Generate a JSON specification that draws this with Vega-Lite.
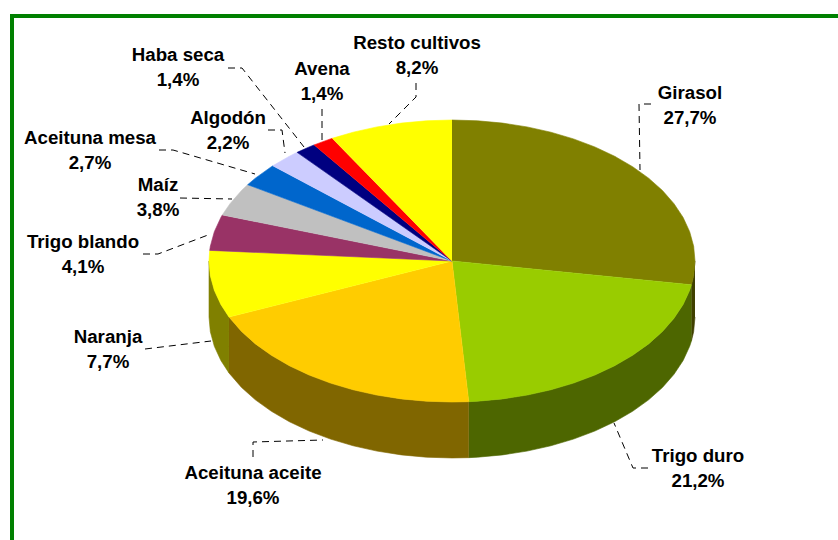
{"$schema":"https://vega.github.io/schema/vega-lite/v6.json","width":838,"height":540,"padding":0,"autosize":"none","background":"white","config":{"view":{"stroke":null}},
"datasets":{
"frame":[{"s":"f","i":0,"x":12,"y":540},{"s":"f","i":1,"x":12,"y":16},{"s":"f","i":2,"x":838,"y":16}],
"labels":[
{"crop":"Girasol","pct":27.7,"t":"Girasol\n27,7%","x":690,"y":99},
{"crop":"Trigo duro","pct":21.2,"t":"Trigo duro\n21,2%","x":698,"y":462},
{"crop":"Aceituna aceite","pct":19.6,"t":"Aceituna aceite\n19,6%","x":253,"y":479},
{"crop":"Naranja","pct":7.7,"t":"Naranja\n7,7%","x":108,"y":343},
{"crop":"Trigo blando","pct":4.1,"t":"Trigo blando\n4,1%","x":83,"y":248},
{"crop":"Maíz","pct":3.8,"t":"Maíz\n3,8%","x":158,"y":191},
{"crop":"Aceituna mesa","pct":2.7,"t":"Aceituna mesa\n2,7%","x":90,"y":144},
{"crop":"Algodón","pct":2.2,"t":"Algodón\n2,2%","x":228,"y":124},
{"crop":"Haba seca","pct":1.4,"t":"Haba seca\n1,4%","x":178,"y":61},
{"crop":"Avena","pct":1.4,"t":"Avena\n1,4%","x":322,"y":75},
{"crop":"Resto cultivos","pct":8.2,"t":"Resto cultivos\n8,2%","x":417,"y":49}],
"leaders":[
{"s":"a","i":0,"x":651,"y":104},{"s":"a","i":1,"x":639,"y":104},{"s":"a","i":2,"x":640,"y":170},
{"s":"b","i":0,"x":648,"y":468},{"s":"b","i":1,"x":633,"y":468},{"s":"b","i":2,"x":614,"y":423},
{"s":"c","i":0,"x":253,"y":457},{"s":"c","i":1,"x":253,"y":442},{"s":"c","i":2,"x":323,"y":440},
{"s":"d","i":0,"x":145,"y":349},{"s":"d","i":1,"x":211,"y":341},
{"s":"e","i":0,"x":143,"y":254},{"s":"e","i":1,"x":158,"y":254},{"s":"e","i":2,"x":208,"y":235},
{"s":"f","i":0,"x":180,"y":198},{"s":"f","i":1,"x":232,"y":199},
{"s":"g","i":0,"x":159,"y":150},{"s":"g","i":1,"x":173,"y":150},{"s":"g","i":2,"x":255,"y":174},
{"s":"h","i":0,"x":268,"y":130},{"s":"h","i":1,"x":282,"y":130},{"s":"h","i":2,"x":285,"y":153},
{"s":"j","i":0,"x":228,"y":68},{"s":"j","i":1,"x":242,"y":68},{"s":"j","i":2,"x":304,"y":147},
{"s":"k","i":0,"x":322,"y":109},{"s":"k","i":1,"x":322,"y":141},
{"s":"l","i":0,"x":416,"y":83},{"s":"l","i":1,"x":416,"y":97},{"s":"l","i":2,"x":389,"y":124}],
"pie":[
{"s":"Girasol lateral","i":0,"x":1,"y":0},{"s":"Girasol lateral","i":1,"x":0.9945,"y":0.1045},{"s":"Girasol lateral","i":2,"x":0.9856,"y":0.1688},{"s":"Girasol lateral","i":3,"x":0.9856,"y":0.5658},{"s":"Girasol lateral","i":4,"x":0.9945,"y":0.5015},{"s":"Girasol lateral","i":5,"x":1,"y":0.397},
{"s":"Trigo duro lateral","i":0,"x":0.9856,"y":0.1688},{"s":"Trigo duro lateral","i":1,"x":0.9781,"y":0.2079},{"s":"Trigo duro lateral","i":2,"x":0.9511,"y":0.309},{"s":"Trigo duro lateral","i":3,"x":0.9135,"y":0.4067},{"s":"Trigo duro lateral","i":4,"x":0.866,"y":0.5},{"s":"Trigo duro lateral","i":5,"x":0.809,"y":0.5878},{"s":"Trigo duro lateral","i":6,"x":0.7431,"y":0.6691},{"s":"Trigo duro lateral","i":7,"x":0.6691,"y":0.7431},{"s":"Trigo duro lateral","i":8,"x":0.5878,"y":0.809},{"s":"Trigo duro lateral","i":9,"x":0.5,"y":0.866},{"s":"Trigo duro lateral","i":10,"x":0.4067,"y":0.9135},{"s":"Trigo duro lateral","i":11,"x":0.309,"y":0.9511},{"s":"Trigo duro lateral","i":12,"x":0.2079,"y":0.9781},{"s":"Trigo duro lateral","i":13,"x":0.1045,"y":0.9945},{"s":"Trigo duro lateral","i":14,"x":0.0691,"y":0.9976},
{"s":"Trigo duro lateral","i":15,"x":0.0691,"y":1.3946},{"s":"Trigo duro lateral","i":16,"x":0.1045,"y":1.3915},{"s":"Trigo duro lateral","i":17,"x":0.2079,"y":1.3751},{"s":"Trigo duro lateral","i":18,"x":0.309,"y":1.3481},{"s":"Trigo duro lateral","i":19,"x":0.4067,"y":1.3105},{"s":"Trigo duro lateral","i":20,"x":0.5,"y":1.263},{"s":"Trigo duro lateral","i":21,"x":0.5878,"y":1.206},{"s":"Trigo duro lateral","i":22,"x":0.6691,"y":1.1401},{"s":"Trigo duro lateral","i":23,"x":0.7431,"y":1.0661},{"s":"Trigo duro lateral","i":24,"x":0.809,"y":0.9848},{"s":"Trigo duro lateral","i":25,"x":0.866,"y":0.897},{"s":"Trigo duro lateral","i":26,"x":0.9135,"y":0.8037},{"s":"Trigo duro lateral","i":27,"x":0.9511,"y":0.706},{"s":"Trigo duro lateral","i":28,"x":0.9781,"y":0.6049},{"s":"Trigo duro lateral","i":29,"x":0.9856,"y":0.5658},
{"s":"Aceituna aceite lateral","i":0,"x":0.0691,"y":0.9976},{"s":"Aceituna aceite lateral","i":1,"x":0,"y":1},{"s":"Aceituna aceite lateral","i":2,"x":-0.1045,"y":0.9945},{"s":"Aceituna aceite lateral","i":3,"x":-0.2079,"y":0.9781},{"s":"Aceituna aceite lateral","i":4,"x":-0.309,"y":0.9511},{"s":"Aceituna aceite lateral","i":5,"x":-0.4067,"y":0.9135},{"s":"Aceituna aceite lateral","i":6,"x":-0.5,"y":0.866},{"s":"Aceituna aceite lateral","i":7,"x":-0.5878,"y":0.809},{"s":"Aceituna aceite lateral","i":8,"x":-0.6691,"y":0.7431},{"s":"Aceituna aceite lateral","i":9,"x":-0.7431,"y":0.6691},{"s":"Aceituna aceite lateral","i":10,"x":-0.809,"y":0.5878},{"s":"Aceituna aceite lateral","i":11,"x":-0.866,"y":0.5},{"s":"Aceituna aceite lateral","i":12,"x":-0.9178,"y":0.3971},
{"s":"Aceituna aceite lateral","i":13,"x":-0.9178,"y":0.7941},{"s":"Aceituna aceite lateral","i":14,"x":-0.866,"y":0.897},{"s":"Aceituna aceite lateral","i":15,"x":-0.809,"y":0.9848},{"s":"Aceituna aceite lateral","i":16,"x":-0.7431,"y":1.0661},{"s":"Aceituna aceite lateral","i":17,"x":-0.6691,"y":1.1401},{"s":"Aceituna aceite lateral","i":18,"x":-0.5878,"y":1.206},{"s":"Aceituna aceite lateral","i":19,"x":-0.5,"y":1.263},{"s":"Aceituna aceite lateral","i":20,"x":-0.4067,"y":1.3105},{"s":"Aceituna aceite lateral","i":21,"x":-0.309,"y":1.3481},{"s":"Aceituna aceite lateral","i":22,"x":-0.2079,"y":1.3751},{"s":"Aceituna aceite lateral","i":23,"x":-0.1045,"y":1.3915},{"s":"Aceituna aceite lateral","i":24,"x":0,"y":1.397},{"s":"Aceituna aceite lateral","i":25,"x":0.0691,"y":1.3946},
{"s":"Naranja lateral","i":0,"x":-0.9178,"y":0.3971},{"s":"Naranja lateral","i":1,"x":-0.9511,"y":0.309},{"s":"Naranja lateral","i":2,"x":-0.9781,"y":0.2079},{"s":"Naranja lateral","i":3,"x":-0.9945,"y":0.1045},{"s":"Naranja lateral","i":4,"x":-1,"y":0},{"s":"Naranja lateral","i":5,"x":-1,"y":0.397},{"s":"Naranja lateral","i":6,"x":-0.9945,"y":0.5015},{"s":"Naranja lateral","i":7,"x":-0.9781,"y":0.6049},{"s":"Naranja lateral","i":8,"x":-0.9511,"y":0.706},{"s":"Naranja lateral","i":9,"x":-0.9178,"y":0.7941},
{"s":"Girasol","i":0,"x":0,"y":0},{"s":"Girasol","i":1,"x":0,"y":-1},{"s":"Girasol","i":2,"x":0.1045,"y":-0.9945},{"s":"Girasol","i":3,"x":0.2079,"y":-0.9781},{"s":"Girasol","i":4,"x":0.309,"y":-0.9511},{"s":"Girasol","i":5,"x":0.4067,"y":-0.9135},{"s":"Girasol","i":6,"x":0.5,"y":-0.866},{"s":"Girasol","i":7,"x":0.5878,"y":-0.809},{"s":"Girasol","i":8,"x":0.6691,"y":-0.7431},{"s":"Girasol","i":9,"x":0.7431,"y":-0.6691},{"s":"Girasol","i":10,"x":0.809,"y":-0.5878},{"s":"Girasol","i":11,"x":0.866,"y":-0.5},{"s":"Girasol","i":12,"x":0.9135,"y":-0.4067},{"s":"Girasol","i":13,"x":0.9511,"y":-0.309},{"s":"Girasol","i":14,"x":0.9781,"y":-0.2079},{"s":"Girasol","i":15,"x":0.9945,"y":-0.1045},{"s":"Girasol","i":16,"x":1,"y":0},{"s":"Girasol","i":17,"x":0.9945,"y":0.1045},{"s":"Girasol","i":18,"x":0.9856,"y":0.1688},
{"s":"Trigo duro","i":0,"x":0,"y":0},{"s":"Trigo duro","i":1,"x":0.9856,"y":0.1688},{"s":"Trigo duro","i":2,"x":0.9781,"y":0.2079},{"s":"Trigo duro","i":3,"x":0.9511,"y":0.309},{"s":"Trigo duro","i":4,"x":0.9135,"y":0.4067},{"s":"Trigo duro","i":5,"x":0.866,"y":0.5},{"s":"Trigo duro","i":6,"x":0.809,"y":0.5878},{"s":"Trigo duro","i":7,"x":0.7431,"y":0.6691},{"s":"Trigo duro","i":8,"x":0.6691,"y":0.7431},{"s":"Trigo duro","i":9,"x":0.5878,"y":0.809},{"s":"Trigo duro","i":10,"x":0.5,"y":0.866},{"s":"Trigo duro","i":11,"x":0.4067,"y":0.9135},{"s":"Trigo duro","i":12,"x":0.309,"y":0.9511},{"s":"Trigo duro","i":13,"x":0.2079,"y":0.9781},{"s":"Trigo duro","i":14,"x":0.1045,"y":0.9945},{"s":"Trigo duro","i":15,"x":0.0691,"y":0.9976},
{"s":"Aceituna aceite","i":0,"x":0,"y":0},{"s":"Aceituna aceite","i":1,"x":0.0691,"y":0.9976},{"s":"Aceituna aceite","i":2,"x":0,"y":1},{"s":"Aceituna aceite","i":3,"x":-0.1045,"y":0.9945},{"s":"Aceituna aceite","i":4,"x":-0.2079,"y":0.9781},{"s":"Aceituna aceite","i":5,"x":-0.309,"y":0.9511},{"s":"Aceituna aceite","i":6,"x":-0.4067,"y":0.9135},{"s":"Aceituna aceite","i":7,"x":-0.5,"y":0.866},{"s":"Aceituna aceite","i":8,"x":-0.5878,"y":0.809},{"s":"Aceituna aceite","i":9,"x":-0.6691,"y":0.7431},{"s":"Aceituna aceite","i":10,"x":-0.7431,"y":0.6691},{"s":"Aceituna aceite","i":11,"x":-0.809,"y":0.5878},{"s":"Aceituna aceite","i":12,"x":-0.866,"y":0.5},{"s":"Aceituna aceite","i":13,"x":-0.9178,"y":0.3971},
{"s":"Naranja","i":0,"x":0,"y":0},{"s":"Naranja","i":1,"x":-0.9178,"y":0.3971},{"s":"Naranja","i":2,"x":-0.9511,"y":0.309},{"s":"Naranja","i":3,"x":-0.9781,"y":0.2079},{"s":"Naranja","i":4,"x":-0.9945,"y":0.1045},{"s":"Naranja","i":5,"x":-1,"y":0},{"s":"Naranja","i":6,"x":-0.9972,"y":-0.0753},
{"s":"Trigo blando","i":0,"x":0,"y":0},{"s":"Trigo blando","i":1,"x":-0.9972,"y":-0.0753},{"s":"Trigo blando","i":2,"x":-0.9945,"y":-0.1045},{"s":"Trigo blando","i":3,"x":-0.9781,"y":-0.2079},{"s":"Trigo blando","i":4,"x":-0.9511,"y":-0.309},{"s":"Trigo blando","i":5,"x":-0.9451,"y":-0.3269},
{"s":"Maíz","i":0,"x":0,"y":0},{"s":"Maíz","i":1,"x":-0.9451,"y":-0.3269},{"s":"Maíz","i":2,"x":-0.9135,"y":-0.4067},{"s":"Maíz","i":3,"x":-0.866,"y":-0.5},{"s":"Maíz","i":4,"x":-0.8409,"y":-0.5412},
{"s":"Aceituna mesa","i":0,"x":0,"y":0},{"s":"Aceituna mesa","i":1,"x":-0.8409,"y":-0.5412},{"s":"Aceituna mesa","i":2,"x":-0.809,"y":-0.5878},{"s":"Aceituna mesa","i":3,"x":-0.7431,"y":-0.6691},{"s":"Aceituna mesa","i":4,"x":-0.7375,"y":-0.6755},
{"s":"Algodón","i":0,"x":0,"y":0},{"s":"Algodón","i":1,"x":-0.7375,"y":-0.6755},{"s":"Algodón","i":2,"x":-0.6691,"y":-0.7431},{"s":"Algodón","i":3,"x":-0.6374,"y":-0.7705},
{"s":"Haba seca","i":0,"x":0,"y":0},{"s":"Haba seca","i":1,"x":-0.6374,"y":-0.7705},{"s":"Haba seca","i":2,"x":-0.5878,"y":-0.809},{"s":"Haba seca","i":3,"x":-0.5672,"y":-0.8235},
{"s":"Avena","i":0,"x":0,"y":0},{"s":"Avena","i":1,"x":-0.5672,"y":-0.8235},{"s":"Avena","i":2,"x":-0.5,"y":-0.866},{"s":"Avena","i":3,"x":-0.4927,"y":-0.8702},
{"s":"Resto cultivos","i":0,"x":0,"y":0},{"s":"Resto cultivos","i":1,"x":-0.4927,"y":-0.8702},{"s":"Resto cultivos","i":2,"x":-0.4067,"y":-0.9135},{"s":"Resto cultivos","i":3,"x":-0.309,"y":-0.9511},{"s":"Resto cultivos","i":4,"x":-0.2079,"y":-0.9781},{"s":"Resto cultivos","i":5,"x":-0.1045,"y":-0.9945},{"s":"Resto cultivos","i":6,"x":0,"y":-1}
]},
"resolve":{"scale":{"x":"independent","y":"independent"}},
"layer":[
{"data":{"name":"frame"},"mark":{"type":"line","stroke":"#008000","strokeWidth":4,"strokeCap":"square","strokeJoin":"miter"},
"encoding":{"x":{"field":"x","type":"quantitative","axis":null,"scale":{"domain":[0,838],"nice":false,"zero":false}},"y":{"field":"y","type":"quantitative","axis":null,"scale":{"domain":[540,0],"nice":false,"zero":false}},"order":{"field":"i"}}},
{"data":{"name":"pie"},"mark":{"type":"line","filled":true,"strokeWidth":0.6},
"encoding":{"x":{"field":"x","type":"quantitative","axis":null,"scale":{"domain":[-1.8601,1.5885],"nice":false,"zero":false}},"y":{"field":"y","type":"quantitative","axis":null,"scale":{"domain":[1.9787,-1.8511],"nice":false,"zero":false}},"order":{"field":"i"},
"fill":{"field":"s","type":"nominal","legend":null,"scale":{"domain":["Girasol","Trigo duro","Aceituna aceite","Naranja","Trigo blando","Maíz","Aceituna mesa","Algodón","Haba seca","Avena","Resto cultivos","Girasol lateral","Trigo duro lateral","Aceituna aceite lateral","Naranja lateral"],"range":["#808000","#99CC00","#FFCC00","#FFFF00","#993366","#C0C0C0","#0066CC","#CCCCFF","#000080","#FF0000","#FFFF00","#404000","#4D6600","#806600","#808000"]}},
"stroke":{"field":"s","type":"nominal","legend":null,"scale":{"domain":["Girasol","Trigo duro","Aceituna aceite","Naranja","Trigo blando","Maíz","Aceituna mesa","Algodón","Haba seca","Avena","Resto cultivos","Girasol lateral","Trigo duro lateral","Aceituna aceite lateral","Naranja lateral"],"range":["#808000","#99CC00","#FFCC00","#FFFF00","#993366","#C0C0C0","#0066CC","#CCCCFF","#000080","#FF0000","#FFFF00","#404000","#4D6600","#806600","#808000"]}}}},
{"data":{"name":"leaders"},"mark":{"type":"line","stroke":"#000000","strokeWidth":1,"strokeDash":[7,5]},
"encoding":{"x":{"field":"x","type":"quantitative","axis":null,"scale":{"domain":[0,838],"nice":false,"zero":false}},"y":{"field":"y","type":"quantitative","axis":null,"scale":{"domain":[540,0],"nice":false,"zero":false}},"detail":{"field":"s"},"order":{"field":"i"}}},
{"data":{"name":"labels"},"mark":{"type":"text","font":"Liberation Sans","fontWeight":"bold","fontSize":18.7,"align":"center","baseline":"alphabetic","lineBreak":"\n","lineHeight":24.5,"fill":"#000000"},
"encoding":{"x":{"field":"x","type":"quantitative","axis":null,"scale":{"domain":[0,838],"nice":false,"zero":false}},"y":{"field":"y","type":"quantitative","axis":null,"scale":{"domain":[540,0],"nice":false,"zero":false}},"text":{"field":"t","type":"nominal"}}}
]}
